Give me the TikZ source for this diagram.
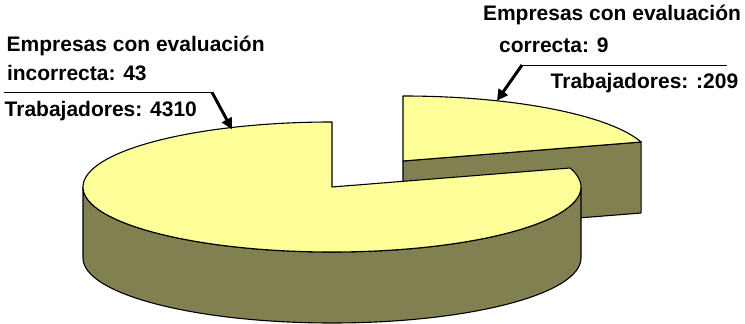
\documentclass[tikz,border=0pt]{standalone}
\usepackage{fontspec}
\setmainfont{Liberation Sans}
\usetikzlibrary{arrows.meta}
\definecolor{pietop}{RGB}{255,255,153}
\definecolor{pieside}{RGB}{128,128,80}
\tikzset{
  face/.style={draw=black,line width=1.1pt,line join=round},
  topface/.style={face,fill=pietop},
  sideface/.style={face,fill=pieside},
  lbl/.style={anchor=base west,inner sep=0pt,font=\fontsize{21}{21}\selectfont\bfseries},
  rule/.style={draw=black,line width=0.9pt},
  pointer/.style={draw=black,line width=3pt,-{Triangle[length=11pt,width=11pt]}}
}
\begin{document}
\begin{tikzpicture}[x=1pt,y=1pt]
\useasboundingbox (0,0) rectangle (745,324);
% exploded slice (centre 403,163)
\coordinate (E) at (403,163);
\coordinate (Ed) at (403,92);
\coordinate (Er) at (641.1,182);
\coordinate (Erd) at (641.1,111);
\draw[sideface] (E) -- (Er) -- (Erd) -- (Ed) -- cycle;
\draw[topface] (E) -- (403,228) arc[start angle=90,end angle=17,x radius=249,y radius=65] -- cycle;
% main slice (centre 332,137)
\coordinate (C) at (332,137);
\draw[sideface] (83,137) arc[start angle=180,end angle=360,x radius=249,y radius=65]
  -- (581,66) arc[start angle=360,end angle=180,x radius=249,y radius=65] -- cycle;
\draw[topface] (C) -- (332,202) arc[start angle=90,end angle=377,x radius=249,y radius=65] -- cycle;
% left label
\node[lbl] (l1) at (6.5,272.3) {Empresas con evaluación};
\node[lbl] (l2) at (6.8,243) {incorrecta: 43};
\node[lbl] (l3) at (4.5,207.3) {Trabajadores: 4310};
\coordinate (la) at (4,231.7);
\coordinate (lb) at (212,231.7);
\coordinate (lt) at (232,194.7);
\draw[rule] (la) -- (lb);
\draw[pointer] (lb) -- (lt);
% right label
\node[lbl] (r1) at (482.8,303.3) {Empresas con evaluación};
\node[lbl] (r2) at (499,271.3) {correcta: 9};
\node[lbl] (r3) at (550.5,235) {Trabajadores: :209};
\coordinate (ra) at (727,259);
\coordinate (rb) at (522,259);
\coordinate (rt) at (497,223.3);
\draw[rule] (ra) -- (rb);
\draw[pointer] (rb) -- (rt);
\end{tikzpicture}
\end{document}
